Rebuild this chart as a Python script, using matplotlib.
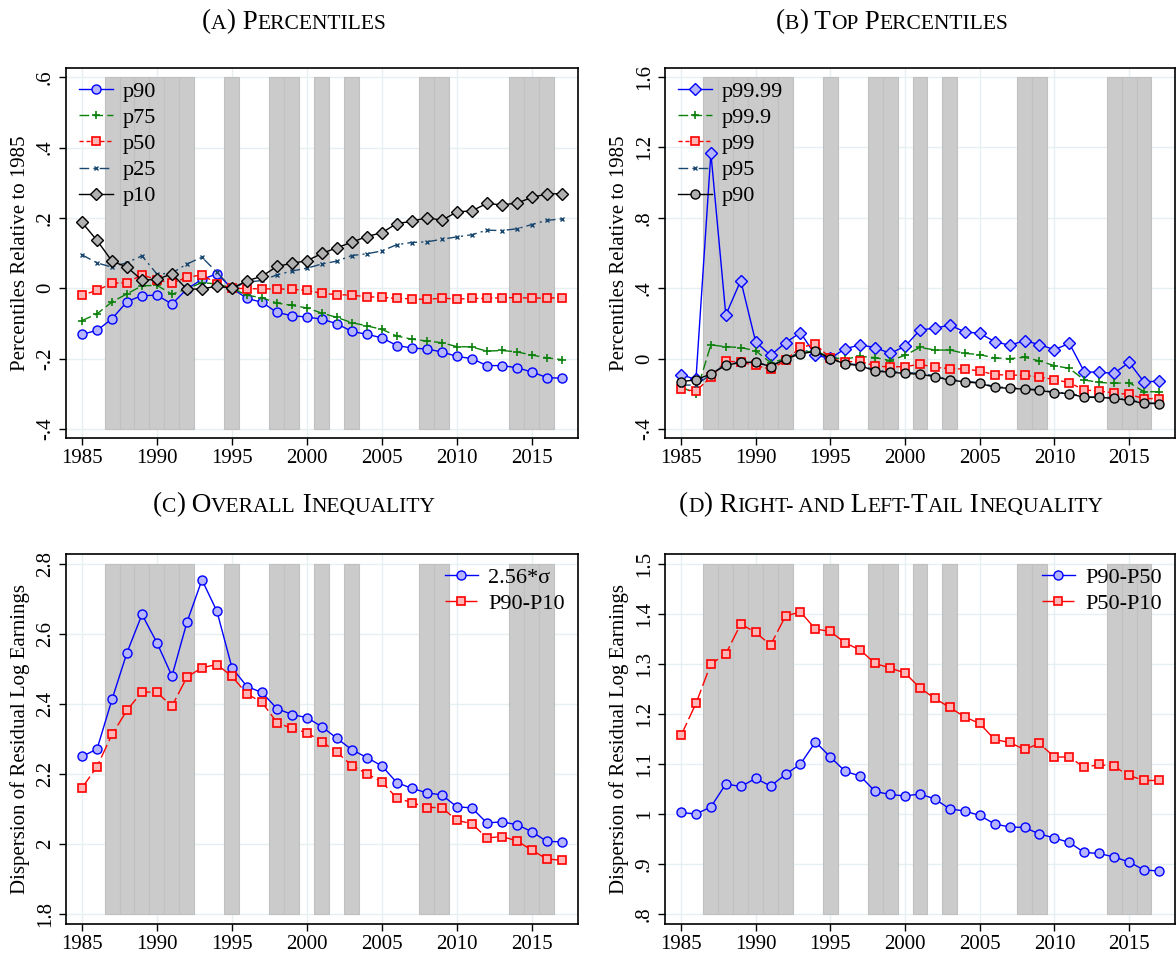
import numpy as np
import matplotlib.pyplot as plt
from matplotlib.offsetbox import TextArea, HPacker, AnchoredOffsetbox

plt.rcParams['font.family'] = ['Liberation Serif', 'DejaVu Serif']

years = np.arange(1985, 2018)
recession_years = [1987, 1988, 1989, 1990, 1991, 1992, 1995, 1998, 1999,
                   2001, 2003, 2008, 2009, 2014, 2015, 2016]

# panel A: percentiles of residual log earnings relative to 1985
p90 = [-0.131, -0.120, -0.087, -0.038, -0.021, -0.020, -0.045, -0.002, 0.025, 0.041,
       0.000, -0.029, -0.040, -0.069, -0.078, -0.082, -0.088, -0.101, -0.123, -0.131,
       -0.141, -0.163, -0.170, -0.173, -0.181, -0.194, -0.200, -0.220, -0.220, -0.226,
       -0.238, -0.254, -0.256]
p75 = [-0.092, -0.073, -0.039, -0.016, 0.007, 0.008, -0.017, -0.002, 0.016, 0.012,
       0.000, -0.020, -0.027, -0.042, -0.049, -0.056, -0.071, -0.083, -0.098, -0.107,
       -0.117, -0.136, -0.145, -0.150, -0.155, -0.166, -0.167, -0.179, -0.177, -0.181,
       -0.190, -0.198, -0.203]
p50 = [-0.020, -0.006, 0.014, 0.016, 0.038, 0.024, 0.014, 0.031, 0.038, 0.013,
       0.000, -0.001, -0.002, -0.002, -0.003, -0.006, -0.015, -0.018, -0.020, -0.024,
       -0.026, -0.029, -0.030, -0.032, -0.028, -0.031, -0.029, -0.029, -0.027, -0.027,
       -0.028, -0.028, -0.027]
p25 = [0.095, 0.072, 0.060, 0.073, 0.092, 0.040, 0.043, 0.069, 0.088, 0.045,
       0.000, 0.017, 0.022, 0.038, 0.049, 0.057, 0.069, 0.077, 0.093, 0.098,
       0.106, 0.124, 0.130, 0.132, 0.139, 0.146, 0.152, 0.165, 0.164, 0.169,
       0.181, 0.193, 0.197]
p10 = [0.187, 0.136, 0.077, 0.060, 0.023, 0.025, 0.041, -0.003, -0.002, 0.006,
       0.000, 0.021, 0.034, 0.062, 0.071, 0.078, 0.099, 0.115, 0.131, 0.147,
       0.158, 0.184, 0.190, 0.201, 0.193, 0.217, 0.220, 0.241, 0.237, 0.242,
       0.258, 0.268, 0.269]

# panel B: top percentiles relative to 1985
p9999 = [-0.091, -0.118, 1.168, 0.248, 0.444, 0.095, 0.019, 0.091, 0.148, 0.019,
         0.002, 0.057, 0.078, 0.063, 0.030, 0.070, 0.163, 0.173, 0.191, 0.152,
         0.144, 0.097, 0.076, 0.102, 0.080, 0.051, 0.087, -0.074, -0.078, -0.083,
         -0.021, -0.133, -0.127]
p999 = [-0.160, -0.200, 0.078, 0.068, 0.063, 0.045, -0.023, 0.000, 0.034, 0.045,
        0.006, -0.002, 0.013, 0.006, -0.011, 0.019, 0.064, 0.049, 0.049, 0.030,
        0.023, 0.004, 0.000, 0.008, -0.013, -0.040, -0.055, -0.121, -0.135, -0.140,
        -0.136, -0.188, -0.188]
p99 = [-0.175, -0.183, -0.106, -0.013, -0.021, -0.038, -0.061, -0.009, 0.064, 0.083,
       0.002, -0.019, -0.015, -0.042, -0.047, -0.045, -0.032, -0.049, -0.057, -0.059,
       -0.070, -0.091, -0.093, -0.095, -0.104, -0.119, -0.136, -0.178, -0.184, -0.195,
       -0.203, -0.227, -0.227]
p95 = [-0.150, -0.150, -0.090, -0.030, -0.020, -0.024, -0.040, -0.003, 0.038, 0.053,
       0.000, -0.026, -0.036, -0.065, -0.074, -0.078, -0.084, -0.097, -0.119, -0.127,
       -0.137, -0.159, -0.166, -0.170, -0.177, -0.190, -0.196, -0.217, -0.217, -0.223,
       -0.234, -0.251, -0.253]
p90_top = [-0.131, -0.120, -0.087, -0.038, -0.021, -0.020, -0.045, -0.002, 0.027, 0.042,
           0.000, -0.030, -0.040, -0.070, -0.078, -0.083, -0.089, -0.102, -0.123, -0.131,
           -0.140, -0.163, -0.169, -0.173, -0.180, -0.193, -0.199, -0.220, -0.220, -0.226,
           -0.237, -0.254, -0.256]

# panel C: overall dispersion
sigma256 = [2.250, 2.271, 2.413, 2.547, 2.656, 2.575, 2.480, 2.634, 2.755, 2.665,
            2.504, 2.450, 2.433, 2.387, 2.370, 2.361, 2.335, 2.302, 2.269, 2.247,
            2.223, 2.175, 2.159, 2.146, 2.140, 2.106, 2.103, 2.060, 2.063, 2.055,
            2.035, 2.007, 2.006]
p90_p10 = [2.160, 2.221, 2.313, 2.382, 2.435, 2.433, 2.394, 2.477, 2.504, 2.513,
           2.479, 2.429, 2.405, 2.347, 2.330, 2.318, 2.292, 2.262, 2.224, 2.201,
           2.177, 2.131, 2.118, 2.104, 2.104, 2.067, 2.058, 2.017, 2.021, 2.009,
           1.982, 1.957, 1.953]

# panel D: right- and left-tail dispersion
p90_p50 = [1.003, 1.000, 1.014, 1.060, 1.055, 1.071, 1.056, 1.079, 1.100, 1.144,
           1.114, 1.085, 1.076, 1.045, 1.039, 1.036, 1.040, 1.030, 1.010, 1.006,
           0.997, 0.980, 0.974, 0.973, 0.960, 0.952, 0.943, 0.923, 0.921, 0.914,
           0.904, 0.888, 0.886]
p50_p10 = [1.157, 1.221, 1.300, 1.320, 1.380, 1.363, 1.338, 1.396, 1.404, 1.370,
           1.365, 1.342, 1.328, 1.301, 1.292, 1.282, 1.252, 1.231, 1.213, 1.194,
           1.181, 1.149, 1.143, 1.129, 1.141, 1.114, 1.114, 1.093, 1.099, 1.095,
           1.077, 1.067, 1.067]

xticks = [1985, 1990, 1995, 2000, 2005, 2010, 2015]

BLUE = '#0000ff'
GREEN = '#0a800a'
RED = '#ff0000'
NAVY = '#1a476f'
LBLUE = '#b4b4ff'
PINK = '#ffb6b6'
GREY = '#b0b0b0'
FS = 15
LFS = 16


def stata_fmt(v):
    s = '%g' % round(v, 3)
    if s.startswith('0.'):
        s = s[1:]
    elif s.startswith('-0.'):
        s = '-' + s[2:]
    return s


def setup(ax, ylim, yticks, ylabel):
    lo, hi = yticks[0], yticks[-1]
    ax.bar(recession_years, hi - lo, bottom=lo, width=1.0, color='#cbcbcb',
           edgecolor='#c0c0c0', linewidth=0.8, zorder=1)
    ax.set_xlim(1983.93, 2018.08)
    ax.set_ylim(*ylim)
    ax.set_xticks(xticks)
    ax.set_yticks(yticks)
    ax.set_yticklabels([stata_fmt(v) for v in yticks])
    ax.set_axisbelow(True)
    ax.grid(color='#e6eff1', linewidth=1.0)
    ax.tick_params(axis='both', direction='out', length=5, width=1.0,
                   labelsize=FS, pad=3)
    ax.tick_params(axis='y', labelrotation=90)
    for lab in ax.get_yticklabels():
        lab.set_va('center')
    for sp in ax.spines.values():
        sp.set_linewidth(1.2)
    ax.set_ylabel(ylabel, fontsize=FS, labelpad=4)


def add_legend(ax, loc, anchor):
    ax.legend(loc=loc, bbox_to_anchor=anchor, frameon=False,
              fontsize=LFS, handlelength=1.5, handletextpad=0.45,
              labelspacing=0.25, borderaxespad=0.3, borderpad=0.3)


def smallcaps(fig, x, y, parts, big=19.5, small=15.5):
    boxes = [TextArea(t, textprops=dict(fontsize=big if b else small))
             for t, b in parts]
    pack = HPacker(children=boxes, align='baseline', pad=0, sep=0)
    box = AnchoredOffsetbox(loc='center', child=pack, frameon=False,
                            bbox_to_anchor=(x, y), bbox_transform=fig.transFigure,
                            borderpad=0, pad=0)
    fig.add_artist(box)


fig = plt.figure(figsize=(11.76, 9.56), dpi=100)
axA = fig.add_axes([0.0561, 0.5418, 0.4354, 0.3870])
axB = fig.add_axes([0.5655, 0.5418, 0.4337, 0.3870])
axC = fig.add_axes([0.0561, 0.0335, 0.4354, 0.3870])
axD = fig.add_axes([0.5655, 0.0335, 0.4337, 0.3870])

# (A) percentiles
setup(axA, (-0.426, 0.626), [-0.4, -0.2, 0, 0.2, 0.4, 0.6],
      'Percentiles Relative to 1985')
axA.plot(years, p90, color=BLUE, lw=1, marker='o', ms=6.5, mfc=LBLUE,
         mec=BLUE, mew=1, label='p90')
axA.plot(years, p75, color=GREEN, lw=1, ls=(0, (7, 3)), marker='+', ms=6,
         mew=1.2, label='p75')
axA.plot(years, p50, color=RED, lw=1, ls=(0, (3, 2)), marker='s', ms=5.5,
         mfc=PINK, mec=RED, mew=1.2, label='p50')
axA.plot(years, p25, color=NAVY, lw=1, ls=(0, (7, 3, 1.5, 3)), marker='x', ms=3,
         mew=1, label='p25')
axA.plot(years, p10, color='black', lw=1, marker='D', ms=6, mfc=GREY,
         mec='black', mew=1, label='p10')
add_legend(axA, 'upper left', (0.0, 1.0))

# (B) top percentiles
setup(axB, (-0.451, 1.651), [-0.4, 0, 0.4, 0.8, 1.2, 1.6],
      'Percentiles Relative to 1985')
axB.plot(years, p9999, color=BLUE, lw=1, marker='D', ms=6, mfc=LBLUE,
         mec=BLUE, mew=1, label='p99.99')
axB.plot(years, p999, color=GREEN, lw=1, ls=(0, (7, 3)), marker='+', ms=6,
         mew=1.2, label='p99.9')
axB.plot(years, p99, color=RED, lw=1, ls=(0, (3, 2)), marker='s', ms=5.5,
         mfc=PINK, mec=RED, mew=1.2, label='p99')
axB.plot(years, p95, color=NAVY, lw=1, ls=(0, (7, 3, 1.5, 3)), marker='x', ms=3,
         mew=1, label='p95')
axB.plot(years, p90_top, color='black', lw=1, marker='o', ms=6.5, mfc=GREY,
         mec='black', mew=1, label='p90')
add_legend(axB, 'upper left', (0.0, 1.0))

# (C) overall inequality
setup(axC, (1.771, 2.829), [1.8, 2.0, 2.2, 2.4, 2.6, 2.8],
      'Dispersion of Residual Log Earnings')
axC.plot(years, sigma256, color=BLUE, lw=1, marker='o', ms=6.5, mfc=LBLUE,
         mec=BLUE, mew=1, label='2.56*\u03c3')
axC.plot(years, p90_p10, color=RED, lw=1, ls=(0, (10, 3)), marker='s', ms=5.5,
         mfc=PINK, mec=RED, mew=1.2, label='P90-P10')
add_legend(axC, 'upper right', (1.0, 1.0))

# (D) right- and left-tail inequality
setup(axD, (0.78, 1.52), [0.8, 0.9, 1.0, 1.1, 1.2, 1.3, 1.4, 1.5],
      'Dispersion of Residual Log Earnings')
axD.plot(years, p90_p50, color=BLUE, lw=1, marker='o', ms=6.5, mfc=LBLUE,
         mec=BLUE, mew=1, label='P90-P50')
axD.plot(years, p50_p10, color=RED, lw=1, ls=(0, (10, 3)), marker='s', ms=5.5,
         mfc=PINK, mec=RED, mew=1.2, label='P50-P10')
add_legend(axD, 'upper right', (1.0, 1.0))

# small-caps panel titles
smallcaps(fig, 294 / 1176, 1 - 22 / 956,
          [('(', 1), ('A', 0), (')', 1), (' P', 1), ('ERCENTILES', 0)])
smallcaps(fig, 892 / 1176, 1 - 22 / 956,
          [('(', 1), ('B', 0), (')', 1), (' T', 1), ('OP', 0), (' P', 1),
           ('ERCENTILES', 0)])
smallcaps(fig, 294 / 1176, 1 - 505 / 956,
          [('(', 1), ('C', 0), (')', 1), (' O', 1), ('VERALL', 0), (' I', 1),
           ('NEQUALITY', 0)])
smallcaps(fig, 891 / 1176, 1 - 505 / 956,
          [('(', 1), ('D', 0), (')', 1), (' R', 1), ('IGHT-', 0), (' AND', 0),
           (' L', 1), ('EFT-', 0), ('T', 1), ('AIL', 0), (' I', 1),
           ('NEQUALITY', 0)])

fig.savefig('out.png', dpi=100)
